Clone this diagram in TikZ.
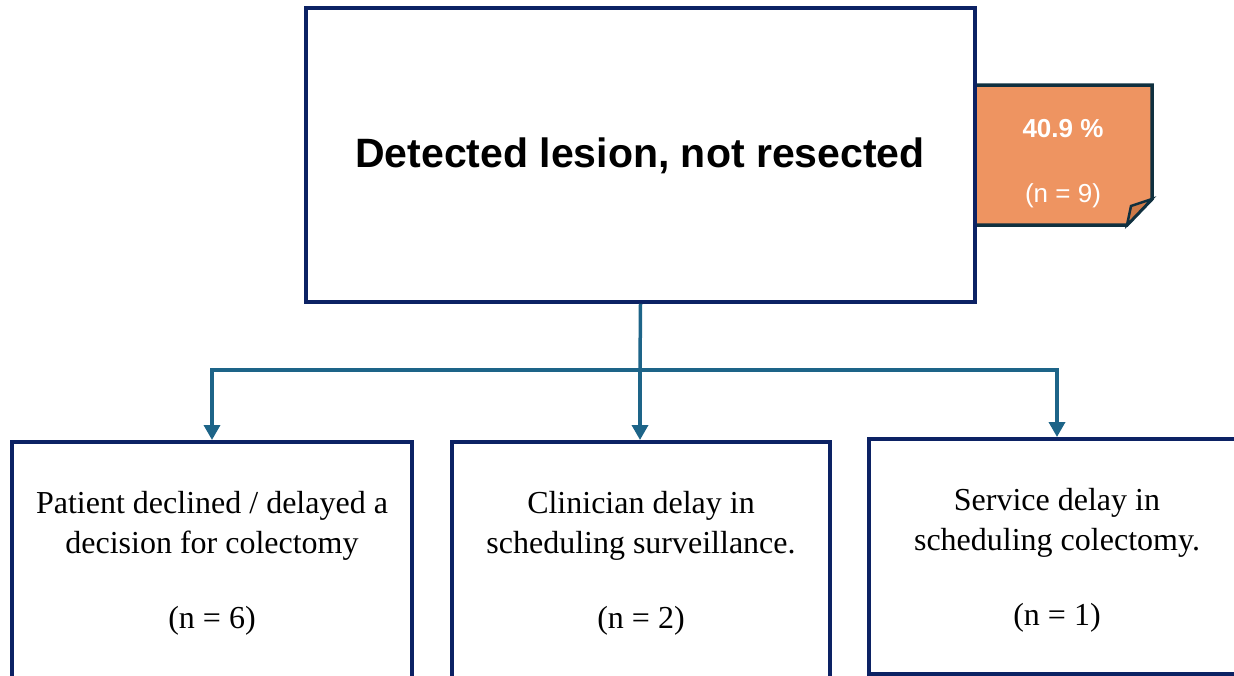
\documentclass[tikz,border=0pt]{standalone}
\usepackage{fontspec}
\setmainfont{Liberation Serif}
\setsansfont{Liberation Sans}
\usepackage{xcolor}
\usepackage{tikz}
\usetikzlibrary{arrows.meta,positioning,calc}

\definecolor{navyline}{RGB}{12,34,100}
\definecolor{tealline}{RGB}{29,100,136}
\definecolor{notefill}{RGB}{238,148,97}
\definecolor{notefold}{RGB}{206,122,72}
\definecolor{noteline}{RGB}{16,48,63}

\begin{document}
\begin{tikzpicture}[x=1pt, y=-1pt,
    box/.style={draw=navyline, line width=3.5pt, fill=white, inner sep=0pt},
    link/.style={draw=tealline, line width=3.5pt},
    reason/.style={align=center, font=\fontsize{32}{40}\selectfont},
    count/.style={font=\fontsize{32}{40}\selectfont},
    notetext/.style={text=white, font=\sffamily\fontsize{26}{30}\selectfont}]
  \useasboundingbox (0,0) rectangle (1234,675);
  \clip (0,0) rectangle (1234,675);
  % sticky note behind the main box
  \filldraw[fill=notefill, draw=noteline, line width=3.5pt, line join=miter]
    (960,85) -- (1152,85) -- (1152,199) -- (1127,225) -- (960,225) -- cycle;
  \filldraw[fill=notefold, draw=noteline, line width=2.5pt]
    (1127,225) -- (1131,206) -- (1152,199) -- cycle;
  \node[notetext, font=\sffamily\bfseries\fontsize{26}{30}\selectfont] (share) at (1063,129) {40.9 \%};
  \node[notetext] (total) at (1063,196) {(n = 9)};
  % main box
  \node[box, minimum width=669pt, minimum height=294pt] (main) at (640.5,155) {};
  \node[font=\sffamily\bfseries\fontsize{41}{46}\selectfont] (title) at (640,156) {Detected lesion, not resected};
  % reasons
  \node[box, minimum width=400pt, minimum height=300pt, anchor=north] (patient) at (212,440) {};
  \node[box, minimum width=378pt, minimum height=300pt, anchor=north] (clinician) at (641,440) {};
  \node[box, minimum width=376pt, minimum height=235pt, anchor=north] (service) at (1057,437) {};
  \node[reason] (patienttxt) at (212,526) {Patient declined / delayed a\\decision for colectomy};
  \node[count] (patientn) at (212,621) {(n = 6)};
  \node[reason] (cliniciantxt) at (641,526) {Clinician delay in\\scheduling surveillance.};
  \node[count] (cliniciann) at (641,621) {(n = 2)};
  \node[reason] (servicetxt) at (1057,523) {Service delay in\\scheduling colectomy.};
  \node[count] (servicen) at (1057,618) {(n = 1)};
  % connectors
  \draw[link] (main.south) -- (640,370) coordinate (split);
  \draw[link, -{Triangle[width=16pt, length=15pt]}] (split) -| (patient.north);
  \draw[link, -{Triangle[width=16pt, length=15pt]}] (split) -- (clinician.north -| split);
  \draw[link, -{Triangle[width=16pt, length=15pt]}] (split) -| (service.north);
\end{tikzpicture}
\end{document}
